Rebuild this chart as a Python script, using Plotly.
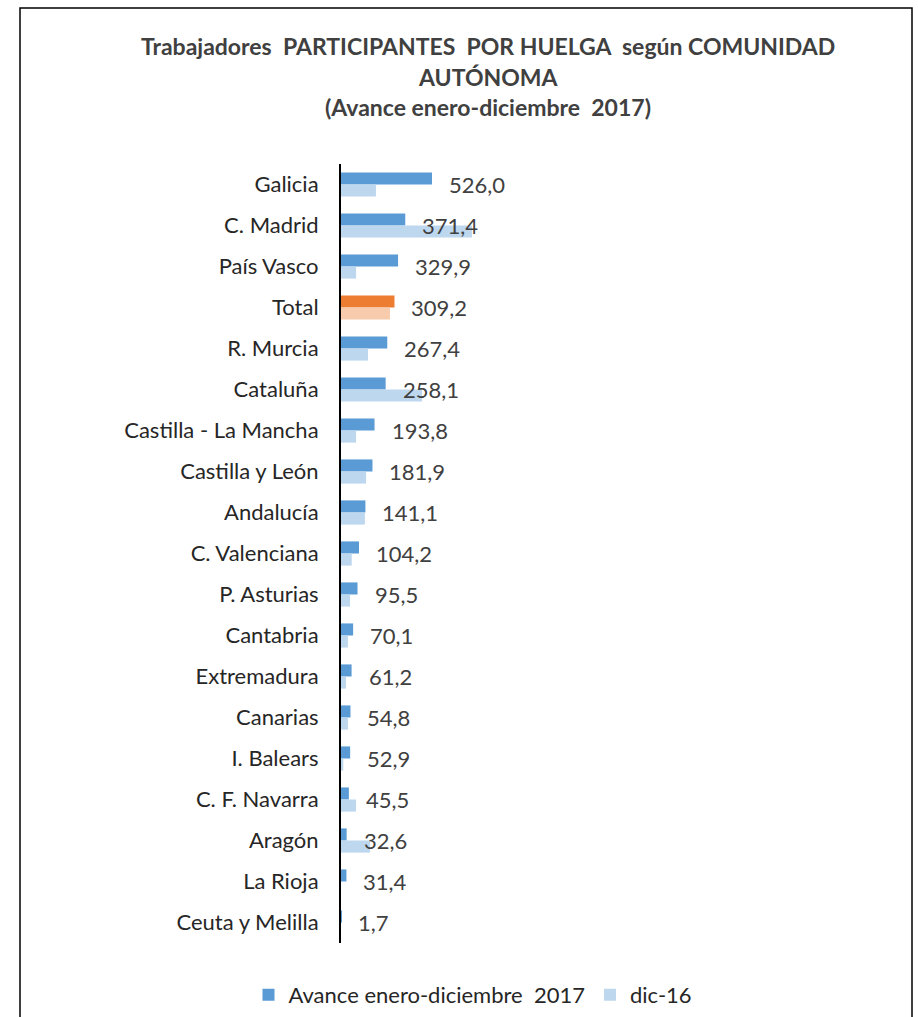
import plotly.graph_objects as go

categories = ["Galicia", "C. Madrid", "País Vasco", "Total", "R. Murcia", "Cataluña",
              "Castilla - La Mancha", "Castilla y León", "Andalucía", "C. Valenciana",
              "P. Asturias", "Cantabria", "Extremadura", "Canarias", "I. Balears",
              "C. F. Navarra", "Aragón", "La Rioja", "Ceuta y Melilla"]
avance_2017 = [526.0, 371.4, 329.9, 309.2, 267.4, 258.1, 193.8, 181.9, 141.1, 104.2,
               95.5, 70.1, 61.2, 54.8, 52.9, 45.5, 32.6, 31.4, 1.7]
dic_16 = [202, 757, 87, 283, 156, 468, 87, 145, 138, 62,
          52, 40, 29, 40, 13, 87, 168, 0, 0]

series_names = ["Avance enero-diciembre  2017", "dic-16"]

W, H = 918, 1017
L, R, T, B = 341, 38, 164, 74
pw, ph = W - L - R, H - T - B
units_per_px = 5.78
xmax = pw * units_per_px

def px_x(x):
    return (x - L) / pw

def px_y(y):
    return (H - B - y) / ph

FONT = "Lato, sans-serif"
dark = ["#ED7D31" if c == "Total" else "#5B9BD5" for c in categories]
light = ["#F8CBAD" if c == "Total" else "#BDD7EE" for c in categories]

fig = go.Figure()
fig.add_trace(go.Bar(y=categories, x=avance_2017, orientation="h", name=series_names[0],
                     marker=dict(color=dark, line=dict(width=0))))
fig.add_trace(go.Bar(y=categories, x=dic_16, orientation="h", name=series_names[1],
                     marker=dict(color=light, line=dict(width=0))))

for c, v in zip(categories, avance_2017):
    fig.add_annotation(x=v, y=c, xref="x", yref="y", text=f"{v:.1f}".replace(".", ","),
                       showarrow=False, xanchor="left", yanchor="middle", xshift=15,
                       font=dict(family=FONT, size=22, color="#404040"))

title_font = dict(family=FONT, size=23, color="#404040")
for txt, y in [("<b>Trabajadores  PARTICIPANTES  POR HUELGA  según COMUNIDAD</b>", 46),
               ("<b>AUTÓNOMA</b>", 77),
               ("<b>(Avance enero-diciembre  2017)</b>", 107)]:
    fig.add_annotation(x=px_x(488), y=px_y(y), xref="paper", yref="paper", text=txt,
                       showarrow=False, xanchor="center", yanchor="middle", font=title_font)

fig.add_shape(type="rect", xref="paper", yref="paper",
              x0=px_x(20), x1=px_x(912), y0=px_y(1030), y1=px_y(8),
              line=dict(color="#000000", width=1.5), fillcolor="rgba(0,0,0,0)")

fig.update_layout(
    width=W, height=H,
    margin=dict(l=L, r=R, t=T, b=B, autoexpand=False),
    paper_bgcolor="white", plot_bgcolor="white",
    barmode="group", bargap=0.41, bargroupgap=0,
    showlegend=True,
    legend=dict(orientation="h", x=px_x(473), y=px_y(995), xanchor="center", yanchor="middle",
                font=dict(family=FONT, size=22, color="#262626"),
                itemwidth=30, traceorder="normal"),
    xaxis=dict(range=[0, xmax], showgrid=False, zeroline=False, showticklabels=False,
               showline=False, fixedrange=True, automargin=False),
    yaxis=dict(autorange="reversed", showgrid=False, showline=True, linecolor="#000000",
               linewidth=2, ticks="", ticklabelstandoff=16, automargin=False,
               tickfont=dict(family=FONT, size=22, color="#262626")),
)

fig.write_html("out.html", config={"displayModeBar": False},
               post_script="document.body.style.margin='0';document.body.style.overflow='hidden';")
